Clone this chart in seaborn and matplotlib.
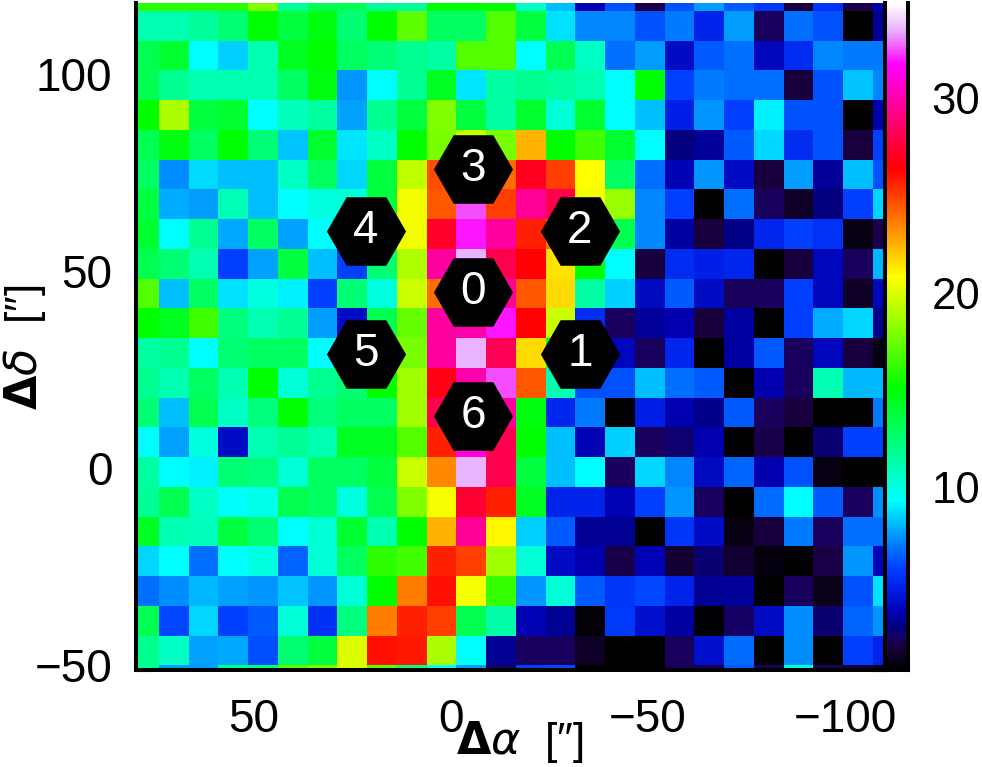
import numpy as np
import pandas as pd
import matplotlib
matplotlib.use("Agg")
import matplotlib.pyplot as plt
from matplotlib.colors import LinearSegmentedColormap
import seaborn as sns

row_00 = [16.0,16.0,16.0,16.0,18.0,11.6,13.2,13.2,11.6,11.6,15.1,15.1,15.1,10.7,8.2,3.5,6.2,2.0,6.2,7.6,6.4,5.5,1.8,5.4,2.0,3.5]
row_01 = [11.1,11.1,11.6,12.5,15.1,13.7,14.8,12.5,15.1,17.2,12.9,12.9,16.9,13.7,8.8,7.2,7.2,6.2,7.0,4.9,7.6,2.2,6.8,6.2,0.6,3.2]
row_02 = [13.3,14.0,9.3,8.5,11.1,14.4,15.1,12.9,12.4,11.8,11.4,16.9,16.9,9.3,13.3,10.7,6.8,7.6,4.0,6.4,6.8,3.8,5.2,7.2,7.0,7.0]
row_03 = [13.3,11.8,11.1,11.1,11.1,12.9,14.8,7.5,9.3,11.8,14.4,8.9,11.4,11.8,11.5,11.1,9.3,15.1,5.8,7.0,6.8,6.8,1.8,6.2,8.3,7.2]
row_04 = [15.1,18.9,13.7,14.0,9.3,10.8,11.5,7.7,11.8,13.7,18.0,13.7,11.4,14.0,10.2,14.0,9.3,8.2,4.8,7.5,5.8,9.1,6.2,6.2,0.6,3.5]
row_05 = [13.3,14.8,12.9,15.1,12.4,8.3,14.0,8.9,10.7,15.1,17.8,19.5,17.8,22.5,15.1,16.5,14.0,9.3,2.8,3.2,6.4,8.6,5.2,6.2,1.8,5.8]
row_06 = [12.9,7.3,8.7,8.2,8.2,10.7,12.9,8.6,13.7,19.4,24.7,25.0,24.0,27.0,25.0,20.8,12.9,6.8,3.6,7.5,4.0,1.8,7.6,3.2,8.2,6.2]
row_07 = [13.7,7.9,7.6,11.0,8.2,9.3,10.0,10.3,13.7,20.5,24.5,32.5,25.0,29.6,28.0,20.5,18.5,7.2,5.8,0.6,6.8,2.2,1.4,2.8,5.8,8.6]
row_08 = [14.0,9.3,11.8,7.8,12.9,7.7,9.3,10.0,13.0,20.5,27.2,32.0,29.8,25.7,24.0,22.0,13.3,7.2,3.3,1.8,2.9,5.0,5.8,5.4,1.0,2.0]
row_09 = [13.3,12.5,11.1,5.8,7.7,13.7,8.2,5.8,12.5,19.0,29.8,33.5,28.0,26.4,21.4,15.1,9.3,1.8,5.2,4.8,5.0,0.6,1.8,3.8,2.2,8.1]
row_10 = [16.9,8.2,12.9,8.8,10.0,9.1,5.8,12.5,10.0,19.6,24.0,30.0,29.5,24.5,21.6,11.4,8.5,3.9,6.4,4.0,2.2,2.2,5.8,3.8,1.4,3.8]
row_11 = [15.1,14.4,16.5,12.3,11.1,11.7,7.6,4.0,13.3,17.4,29.8,30.0,32.0,26.4,19.6,5.2,2.2,3.2,3.5,1.8,3.3,0.6,5.8,7.9,8.6,3.0]
row_12 = [11.4,11.8,9.3,12.5,12.9,12.9,9.3,11.0,13.0,17.8,29.8,33.5,28.2,21.6,14.0,4.0,3.8,2.2,5.0,0.6,3.3,6.3,2.2,3.8,1.8,1.0]
row_13 = [11.8,11.1,12.9,11.1,15.1,10.3,11.8,12.5,15.1,18.7,26.8,30.0,32.5,24.5,11.1,6.2,6.2,8.2,6.8,6.4,0.6,3.5,2.2,11.1,8.1,8.1]
row_14 = [12.5,8.2,13.3,10.7,12.3,15.1,12.3,12.9,12.9,18.7,28.0,32.0,29.8,14.8,5.0,7.0,0.6,4.8,3.5,3.0,6.4,2.2,1.8,0.6,0.6,7.0]
row_15 = [9.3,7.7,10.0,4.0,11.1,11.7,11.1,14.4,14.4,16.9,25.7,31.0,28.0,15.1,8.2,3.6,8.5,2.2,2.5,3.5,0.6,2.0,0.6,2.6,5.8,5.8]
row_16 = [11.4,9.3,9.1,12.5,12.3,10.3,12.9,12.9,13.7,19.6,23.4,33.5,28.0,13.7,8.2,9.3,2.2,8.6,7.2,3.9,6.6,3.5,6.2,1.0,0.6,0.6]
row_17 = [11.7,13.3,10.7,9.5,9.8,13.3,12.9,10.0,13.3,18.0,20.6,27.5,25.7,14.4,4.9,4.9,3.6,5.8,7.5,2.2,0.6,6.7,9.3,6.4,2.2,7.3]
row_18 = [14.4,11.1,10.8,13.7,12.5,9.3,10.3,14.0,11.1,15.1,22.5,29.6,21.0,8.5,6.4,3.1,3.1,0.6,5.5,4.0,1.0,1.8,7.0,2.2,6.8,6.8]
row_19 = [8.6,9.3,6.8,9.3,10.0,6.5,10.3,12.9,16.1,16.5,25.7,25.0,18.7,10.2,4.0,3.5,2.0,3.6,1.6,2.6,1.6,0.9,0.6,1.9,7.5,3.7]
row_20 = [6.8,7.3,8.1,7.7,7.5,8.3,7.5,10.2,15.1,23.6,26.0,20.6,16.3,7.5,10.2,6.4,5.5,5.9,4.9,3.1,3.2,0.6,2.2,1.1,6.2,8.8]
row_21 = [13.3,5.9,8.6,5.8,6.4,10.2,5.3,12.2,23.6,25.7,25.0,13.3,11.3,3.6,3.1,0.8,5.6,4.1,3.3,0.7,2.3,4.0,7.3,2.6,6.6,7.5]
row_22 = [11.8,10.7,7.7,7.8,6.1,12.5,13.7,20.0,26.0,25.9,18.9,9.3,3.1,2.2,2.2,1.4,0.6,0.6,2.2,4.1,6.7,0.6,7.3,0.6,5.8,4.9]
row_23 = [11.8,7.6,7.6,11.8,12.5,17.0,18.0,20.0,17.0,12.3,9.3,7.6,2.2,5.8,6.0,0.6,0.6,0.6,2.2,2.2,6.4,2.2,10.5,2.0,1.8,1.0]
rows = [row_00,row_01,row_02,row_03,row_04,row_05,row_06,row_07,row_08,row_09,row_10,row_11,
        row_12,row_13,row_14,row_15,row_16,row_17,row_18,row_19,row_20,row_21,row_22,row_23]

hex_labels = ["3","2","4","0","1","5","6"]
hex_ra  = [-5.6,-32.7,21.6,-5.6,-32.7,21.6,-5.6]
hex_dec = [77.2,61.5,61.5,46.0,30.2,30.2,14.5]

ra_ticks_major = [50,0,-50,-100]
dec_ticks_major = [100,50,0,-50]
cbar_ticks_major = [10,20,30]
cbar_ticks_minor = [2,4,6,8,12,14,16,18,22,24,26,28,32,34]

PIX = 7.55
RA_EDGE = 74.1
DEC_EDGE = 117.26
def cx(ra):
    return 1 + (RA_EDGE - np.asarray(ra, float)) / PIX
def cy(dec):
    return 1 + (DEC_EDGE - np.asarray(dec, float)) / PIX

VMIN, VMAX = 0.6, 34.9
nodes = [(0.6,"#000000"),(1.8,"#180040"),(2.2,"#180060"),(2.8,"#000080"),(3.5,"#0000b0"),
         (4.8,"#0020e8"),(5.8,"#0040ff"),(6.8,"#0070ff"),(9.3,"#00ffff"),(15.1,"#00ff00"),
         (20.8,"#ffff00"),(26.4,"#ff0000"),(31.8,"#ff00ff"),(33.5,"#e8b0ff"),(34.9,"#ffffff")]
cmap = LinearSegmentedColormap.from_list(
    "map", [((v-VMIN)/(VMAX-VMIN), c) for v, c in nodes], N=512)

sns.set_theme(style="white")
plt.rcParams["font.family"] = ["Liberation Sans", "DejaVu Sans"]

W, H = 982, 767
fig = plt.figure(figsize=(W/100, H/100), dpi=100, facecolor="white")
def box(l, t, r, b):
    return [l/W, 1-b/H, (r-l)/W, (b-t)/H]
ax = fig.add_axes(box(136, 3, 884.5, 670))
cax = fig.add_axes(box(884.5, 3, 908, 670))
ax.set_zorder(3)
cax.set_zorder(2)

df = pd.DataFrame(rows)
sns.heatmap(df, ax=ax, cmap=cmap, vmin=VMIN, vmax=VMAX, cbar_ax=cax,
            xticklabels=False, yticklabels=False, cbar_kws={"ticks": cbar_ticks_major})
ax.set_xlim(0.227, 25.39)
ax.set_ylim(23.16, 0.731)

lw = 2.9
for s, sp in ax.spines.items():
    sp.set_visible(s != "top")
    sp.set_linewidth(lw); sp.set_color("black")
ra_minor = [v for v in range(-100, 80, 10) if v not in ra_ticks_major]
dec_minor = [v for v in range(-50, 120, 10) if v not in dec_ticks_major]
ax.set_xticks(cx(ra_ticks_major))
ax.set_xticklabels([str(v).replace("-", "\u2212") for v in ra_ticks_major])
ax.set_yticks(cy(dec_ticks_major))
ax.set_yticklabels([str(v).replace("-", "\u2212") for v in dec_ticks_major], rotation=0, va="center")
ax.set_xticks(cx(ra_minor), minor=True)
ax.set_yticks(cy(dec_minor), minor=True)
ax.tick_params(which="major", direction="in", length=8.6, width=2.2, color="black",
               top=True, right=True, bottom=True, left=True, labelsize=33, labelcolor="black")
ax.tick_params(which="minor", direction="in", length=4.6, width=2.2, color="black",
               top=True, right=True, bottom=True, left=True)
ax.tick_params(axis="x", which="major", pad=20)
ax.tick_params(axis="y", which="major", pad=17)

cbar = ax.collections[0].colorbar
cbar.outline.set_visible(False)
cbar.set_ticks(cbar_ticks_minor, minor=True)
cbar.set_ticks(cbar_ticks_major)
cax.set_ylim(VMIN, VMAX)
cax.tick_params(which="major", direction="in", length=8.6, width=2.2, color="black",
                right=True, left=False, labelsize=31.5, labelcolor="black", pad=17)
cax.tick_params(which="minor", direction="in", length=4.6, width=2.2, color="black",
                right=True, left=False)
for s, sp in cax.spines.items():
    sp.set_visible(s in ("right", "bottom"))
    sp.set_linewidth(lw); sp.set_color("black")

sx = cx(hex_ra); sy = cy(hex_dec)
ax.scatter(sx, sy, marker="H", s=57**2, c="black", linewidths=0, zorder=5)
for lab, x, y in zip(hex_labels, sx, sy):
    ax.text(x, y, lab, color="white", fontsize=33, ha="center", va="center", zorder=6)

fig.text(520/W, 1-742/H, "$\\mathbf{\\Delta}\\alpha$  [\u2033]", fontsize=32, ha="center", va="center", color="black")
fig.text(25/W, 1-347/H, "$\\mathbf{\\Delta}\\delta$  [\u2033]", fontsize=32, ha="center", va="center", rotation=90, color="black")

fig.savefig("out.png", dpi=100, facecolor="white")
